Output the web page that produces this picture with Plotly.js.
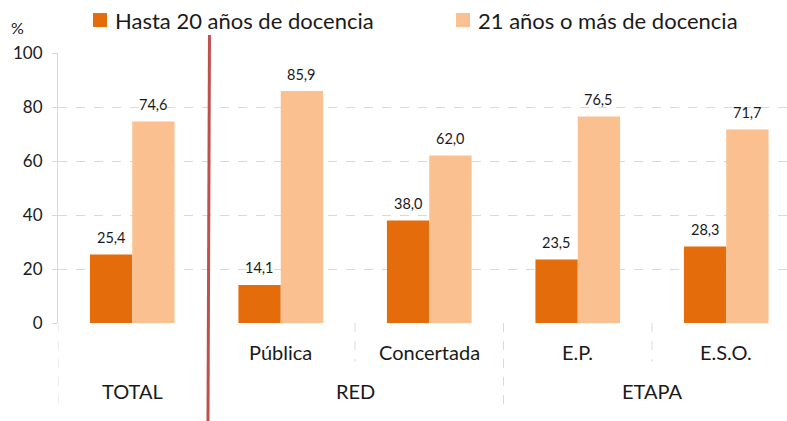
<!DOCTYPE html>
<html>
<head>
<meta charset="utf-8">
<script src="https://cdn.plot.ly/plotly-3.0.1.min.js"></script>
<style>
  html, body { margin: 0; padding: 0; background: #fff; }
  #chart { width: 787px; height: 421px; }
</style>
</head>
<body>
<div id="chart"></div>
<script>
  // Categories and groups
  const categories = ['', 'Pública', 'Concertada', 'E.P.', 'E.S.O.'];
  const groups = ['TOTAL', 'RED', 'ETAPA'];
  const groupCenters = [0, 1.5, 3.5];
  const hasta20 = [25.4, 14.1, 38.0, 23.5, 28.3];
  const mas21 = [74.6, 85.9, 62.0, 76.5, 71.7];
  const seriesNames = ['Hasta 20 años de docencia', '21 años o más de docencia'];
  const seriesColors = ['#E46C0A', '#FAC090'];

  const positions = categories.map((c, i) => i);
  const fmt = v => v.toFixed(1).replace('.', ',');
  const txtFont = 'Lato, "Open Sans", sans-serif';
  const ink = '#1a1a1a';

  const traceA = {
    x: positions, y: hasta20, type: 'bar', name: seriesNames[0],
    marker: { color: seriesColors[0] }, hoverinfo: 'skip'
  };
  const traceB = {
    x: positions, y: mas21, type: 'bar', name: seriesNames[1],
    marker: { color: seriesColors[1] }, hoverinfo: 'skip'
  };

  const annotations = [];
  // value labels
  hasta20.forEach((v, i) => annotations.push({
    x: i, y: v, text: fmt(v), showarrow: false, xshift: -21, yshift: 17,
    font: { size: 14.5, color: ink }
  }));
  mas21.forEach((v, i) => annotations.push({
    x: i, y: v, text: fmt(v), showarrow: false, xshift: 21, yshift: 17,
    font: { size: 14.5, color: ink }
  }));
  // category labels
  categories.forEach((c, i) => annotations.push({
    x: i, y: -0.107, yref: 'paper', yanchor: 'middle', text: c, showarrow: false,
    font: { size: 20, color: ink }
  }));
  groups.forEach((g, i) => annotations.push({
    x: groupCenters[i], y: -0.252, yref: 'paper', yanchor: 'middle', text: g, showarrow: false,
    font: { size: 20, color: ink }
  }));
  annotations.push({
    xref: 'paper', yref: 'paper', x: -0.055, y: 1.096, xanchor: 'center', yanchor: 'middle',
    text: '%', showarrow: false, font: { size: 16, color: ink }
  });

  // hand-made legend (keeps both entries on one line)
  const legendX = [0.048, 0.546];
  const shapes = [];
  seriesNames.forEach((n, k) => {
    shapes.push({
      type: 'rect', xref: 'paper', yref: 'paper',
      x0: legendX[k], x1: legendX[k] + 0.0192, y0: 1.0963, y1: 1.148,
      fillcolor: seriesColors[k], line: { width: 0 }
    });
    annotations.push({
      xref: 'paper', yref: 'paper', x: legendX[k] + 0.0274, y: 1.122,
      xanchor: 'left', yanchor: 'middle', text: n, showarrow: false,
      font: { size: 22, color: ink }
    });
  });

  const sepStyle = { color: '#D9D9D9', width: 1, dash: 'dash' };
  shapes.push(
    { type: 'line', xref: 'x', yref: 'paper', x0: -0.5, x1: -0.5, y0: 0, y1: -0.304, line: sepStyle },
    { type: 'line', xref: 'x', yref: 'paper', x0: 1.5, x1: 1.5, y0: 0, y1: -0.144, line: sepStyle },
    { type: 'line', xref: 'x', yref: 'paper', x0: 2.5, x1: 2.5, y0: 0, y1: -0.304, line: sepStyle },
    { type: 'line', xref: 'x', yref: 'paper', x0: 3.5, x1: 3.5, y0: 0, y1: -0.144, line: sepStyle },
    // red divider
    { type: 'line', xref: 'x', yref: 'paper', x0: 0.52, x1: 0.51, y0: 1.067, y1: -0.37,
      line: { color: '#C0504D', width: 3 } }
  );

  const layout = {
    width: 787, height: 421,
    margin: { l: 58, r: 0, t: 53, b: 98, autoexpand: false },
    paper_bgcolor: '#fff', plot_bgcolor: '#fff',
    font: { family: txtFont, color: ink },
    barmode: 'group', bargap: 0.43, bargroupgap: 0,
    showlegend: false,
    xaxis: {
      range: [-0.5, 4.409], showgrid: false, showticklabels: false,
      zeroline: false, showline: false, ticks: ''
    },
    yaxis: {
      range: [0, 100], dtick: 20, showgrid: true, gridcolor: '#D9D9D9', griddash: 'dash',
      zeroline: false, showline: true, linecolor: '#D9D9D9', linewidth: 1,
      ticks: 'outside', ticklen: 5, tickcolor: '#D9D9D9', ticklabelstandoff: 6,
      tickfont: { size: 17, color: ink }
    },
    annotations: annotations,
    shapes: shapes
  };

  Plotly.newPlot('chart', [traceA, traceB], layout, { displayModeBar: false, staticPlot: true });
</script>
</body>
</html>
